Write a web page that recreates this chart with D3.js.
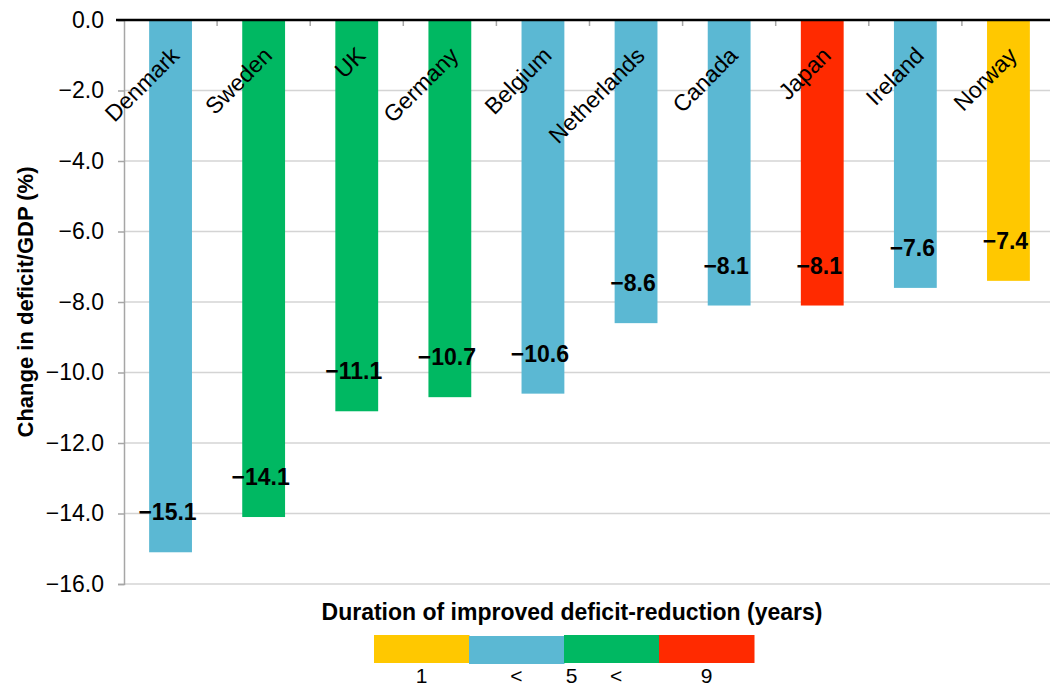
<!DOCTYPE html>
<html><head><meta charset="utf-8">
<script src="https://cdn.jsdelivr.net/npm/d3@7"></script>
<style>body{margin:0;background:#fff}svg{display:block;font-family:"Liberation Sans",Arial,sans-serif}</style>
</head><body><svg id="c" width="1050" height="687"></svg>
<script>
const countries = ["Denmark","Sweden","UK","Germany","Belgium","Netherlands","Canada","Japan","Ireland","Norway"];
const values = [-15.1,-14.1,-11.1,-10.7,-10.6,-8.6,-8.1,-8.1,-7.6,-7.4];
const durationGroup = ["mid","long","long","long","mid","mid","mid","vlong","mid","short"];
const yTicks = [0,-2,-4,-6,-8,-10,-12,-14,-16];
const legendKeys = ["short","mid","long","vlong"];
const legendLabels = [{t:"1",k:0,f:0.5},{t:"<",k:1,f:0.5},{t:"5",k:2,f:0.08},{t:"<",k:2,f:0.55},{t:"9",k:3,f:0.5}];
const colors = {short:"#FFC800",mid:"#5BB8D3",long:"#00B862",vlong:"#FF2A00"};

const svg = d3.select("#c");
const L = 124, R = 1055, T = 20, B = 584;
const x = d3.scaleBand().domain(countries).range([L,R]).paddingInner(0.54).paddingOuter(0.27);
const xb = d3.scaleBand().domain(countries).range([L,R]);
const y = d3.scaleLinear().domain([0,-16]).range([T,B]);

// gridlines
svg.append("g").selectAll("line").data(yTicks.filter(d=>d!==0)).join("line")
  .attr("x1",L).attr("x2",1050).attr("y1",d=>y(d)).attr("y2",d=>y(d))
  .attr("stroke","#d4d4d4").attr("stroke-width",1.5);

// left axis
const ya = d3.axisLeft(y).tickValues(yTicks).tickSize(6).tickPadding(14)
  .tickFormat(d=> d===0 ? "0.0" : "\u2212"+Math.abs(d).toFixed(1));
const gy = svg.append("g").attr("transform",`translate(${L},0)`).call(ya);
gy.select(".domain").attr("stroke","#a6a6a6").attr("stroke-width",1.5);
gy.selectAll(".tick line").attr("stroke","#a6a6a6").attr("stroke-width",1.5);
gy.selectAll("text").attr("font-size",23).attr("fill","#000").attr("font-family","Liberation Sans, Arial, sans-serif");

// bars
svg.append("g").selectAll("rect").data(countries).join("rect")
  .attr("x",d=>x(d)).attr("width",x.bandwidth())
  .attr("y",y(0)).attr("height",(d,i)=>y(values[i])-y(0))
  .attr("fill",(d,i)=>colors[durationGroup[i]]);

// band ticks at top
svg.append("g").selectAll("line").data(countries.slice(1)).join("line")
  .attr("x1",d=>xb(d)).attr("x2",d=>xb(d)).attr("y1",T).attr("y2",T+6)
  .attr("stroke","#a6a6a6").attr("stroke-width",1.5);

// zero line
svg.append("line").attr("x1",116).attr("x2",1050).attr("y1",y(0)).attr("y2",y(0))
  .attr("stroke","#000").attr("stroke-width",2.5);

// category labels
svg.append("g").selectAll("text").data(countries).join("text")
  .attr("transform",d=>`translate(${xb(d)+xb.bandwidth()/2+10},57) rotate(-45)`)
  .attr("text-anchor","end").attr("font-size",23).text(d=>d);

// value labels
svg.append("g").selectAll("text").data(countries).join("text")
  .attr("x",d=>x(d)+x.bandwidth()/2-3).attr("y",(d,i)=>y(values[i])-32)
  .attr("text-anchor","middle").attr("font-size",23).attr("font-weight","bold")
  .text((d,i)=>"\u2212"+Math.abs(values[i]).toFixed(1));

// y title
svg.append("text").attr("transform","translate(33,302) rotate(-90)")
  .attr("text-anchor","middle").attr("font-size",22).attr("font-weight","bold")
  .text("Change in deficit/GDP (%)");

// legend
const lx = d3.scaleBand().domain(legendKeys).range([374,754]);
svg.append("text").attr("x",572).attr("y",620).attr("text-anchor","middle")
  .attr("font-size",23).attr("font-weight","bold").text("Duration of improved deficit-reduction (years)");
svg.append("g").selectAll("rect").data(legendKeys).join("rect")
  .attr("x",d=>lx(d)).attr("width",lx.bandwidth()+0.5)
  .attr("y",d=>d==="mid"?636:635).attr("height",28).attr("fill",d=>colors[d]);
svg.append("g").selectAll("text").data(legendLabels).join("text")
  .attr("x",d=>lx(legendKeys[d.k])+lx.bandwidth()*d.f).attr("y",683)
  .attr("text-anchor","middle").attr("font-size",21).text(d=>d.t);
</script></body></html>
